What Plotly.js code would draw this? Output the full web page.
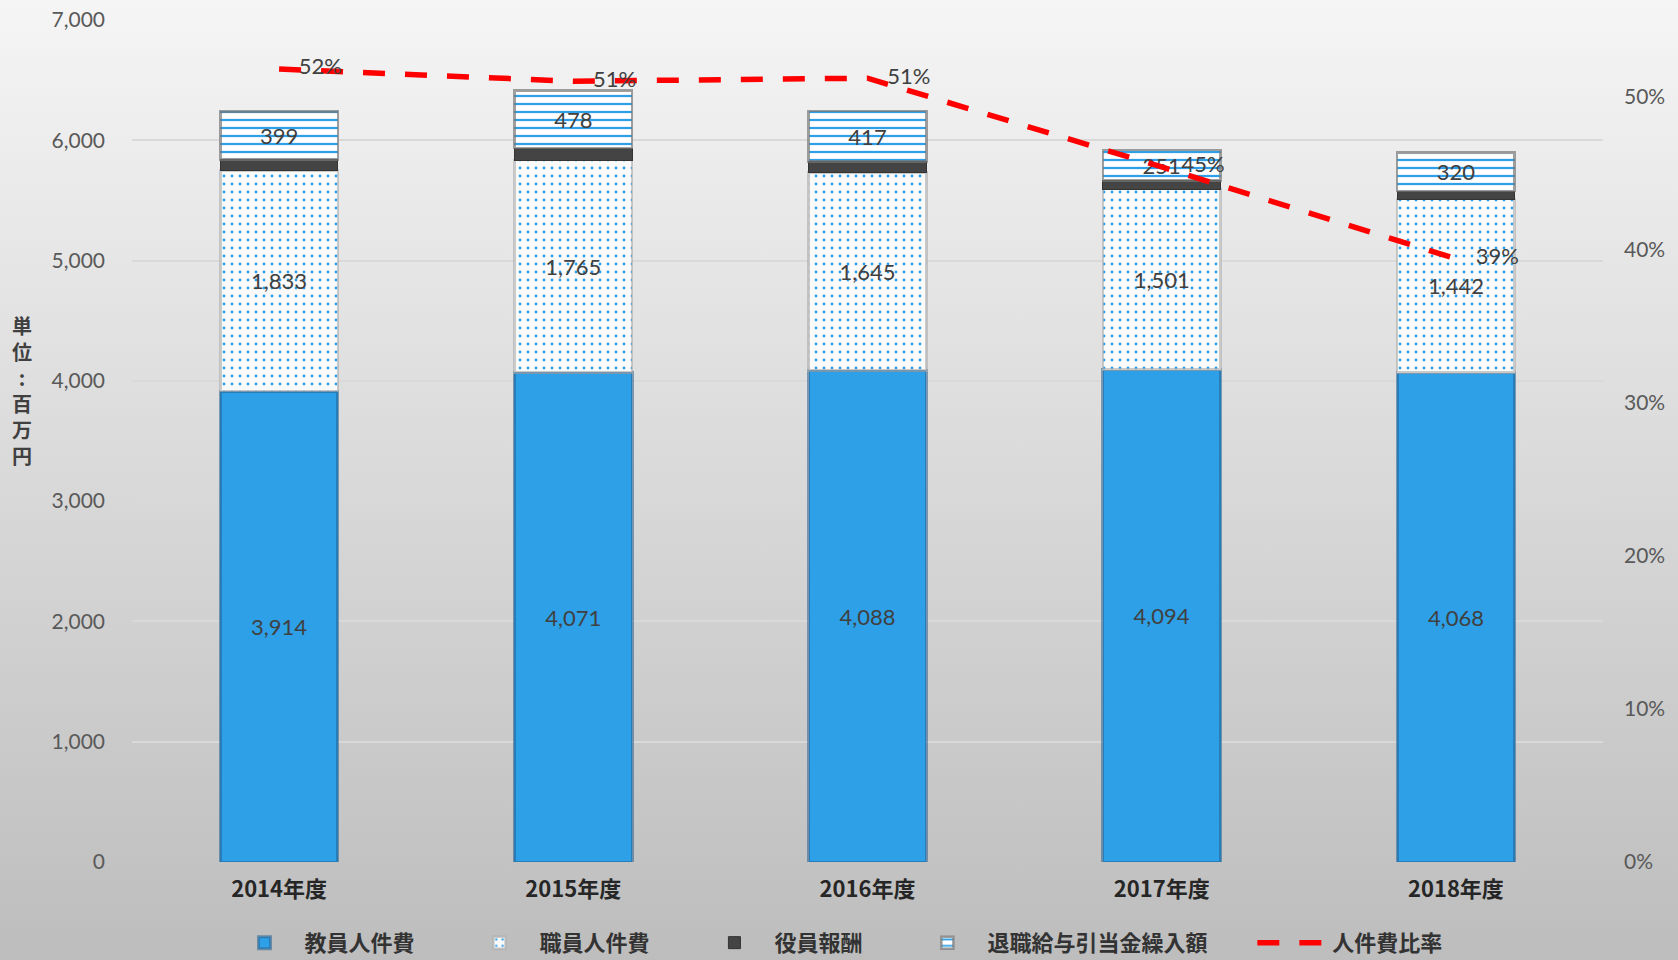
<!DOCTYPE html>
<html><head><meta charset="utf-8">
<script src="https://cdn.plot.ly/plotly-3.0.1.min.js"></script>
<style>
html,body{margin:0;padding:0;}
#chart{width:1678px;height:960px;background:linear-gradient(#f5f5f5,#bdbdbd);}
</style>
</head><body><div id="chart"></div>
<script>
const years = ['2014年度','2015年度','2016年度','2017年度','2018年度'];
const faculty = [3914,4071,4088,4094,4068];
const staff = [1833,1765,1645,1501,1442];
const officers = [95,98,92,72,68];
const retirement = [399,478,417,251,320];
const ratio = [0.518,0.510,0.512,0.454,0.394];
const leftTicks = [0,1000,2000,3000,4000,5000,6000,7000];
const rightTicks = [0,0.1,0.2,0.3,0.4,0.5];

const numFont = "Lato, 'Noto Sans CJK JP', sans-serif";
const jpFont = "'Noto Sans CJK JP', Lato, sans-serif";
const labelFont = {family: numFont, size: 22, color: '#404040'};
const pad = '\u00a0'.repeat(8);

const traces = [
  {type:'bar', name:'教員人件費'+pad, x:years, y:faculty, text:faculty.map(v=>v.toLocaleString('en-US')),
   textposition:'inside', insidetextanchor:'middle', textangle:0, textfont:labelFont,
   marker:{color:'#2ea0e8', line:{color:'rgba(40,95,140,0.55)', width:3}}},
  {type:'bar', name:'職員人件費'+pad, x:years, y:staff, text:staff.map(v=>v.toLocaleString('en-US')),
   textposition:'inside', insidetextanchor:'middle', textangle:0, textfont:labelFont,
   marker:{color:'#fafafa', line:{color:'rgba(170,170,170,0.6)', width:2.5},
           pattern:{shape:'.', fgcolor:'#2e9fe8', bgcolor:'#fafafa', size:8, solidity:0.1}}},
  {type:'bar', name:'役員報酬'+pad, x:years, y:officers, textposition:'none',
   marker:{color:'#444444', line:{color:'#333333', width:1}}},
  {type:'bar', name:'退職給与引当金繰入額'+pad, x:years, y:retirement, text:retirement.map(v=>v.toLocaleString('en-US')),
   textposition:'inside', insidetextanchor:'middle', textangle:0, textfont:labelFont, constraintext:'none',
   marker:{color:'#ffffff', line:{color:'rgba(120,120,120,0.7)', width:2.5},
           pattern:{shape:'-', fgcolor:'#2e9fe8', bgcolor:'#ffffff', size:8, solidity:0.28}}},
  {type:'scatter', name:'人件費比率', x:years, y:ratio, yaxis:'y2', mode:'lines+markers+text',
   text:ratio.map(v=>Math.round(v*100)+'%'), textposition:'middle right',
   textfont:{family:numFont, size:22, color:'#404040'},
   marker:{size:30, color:'rgba(0,0,0,0)'},
   line:{color:'#ff0000', width:5.5, dash:'22px,20px'}}
];

const layout = {
  width:1678, height:960,
  paper_bgcolor:'rgba(0,0,0,0)', plot_bgcolor:'rgba(0,0,0,0)',
  margin:{l:132, r:75, t:20, b:98, autoexpand:false},
  barmode:'stack', bargap:0.6,
  showlegend:true,
  font:{family:jpFont, color:'#404040'},
  xaxis:{type:'category', tickfont:{family:jpFont, size:22, color:'#262626', weight:'bold'},
         ticks:'', ticklabelstandoff:12, showline:false, showgrid:false, zeroline:false},
  yaxis:{range:[0,7000], tickvals:leftTicks, tickformat:',d', tickfont:{family:numFont, size:21, color:'#595959'},
         gridcolor:'#d9d9d9', gridwidth:2, zeroline:false, showline:false, ticks:'', ticklabelstandoff:26},
  yaxis2:{overlaying:'y', side:'right', range:[0,0.55], tickvals:rightTicks, tickformat:'.0%',
          tickfont:{family:numFont, size:21, color:'#595959'}, showgrid:false, zeroline:false,
          showline:false, ticks:'', ticklabelstandoff:20},
  legend:{orientation:'h', x:0.4786, xanchor:'center', y:-0.096, yanchor:'middle',
          font:{family:jpFont, size:22, color:'#333333', weight:'bold'}, itemwidth:70,
          traceorder:'normal', bgcolor:'rgba(0,0,0,0)'},
  annotations:[{text:'単<br>位<br>:<br>百<br>万<br>円', xref:'paper', yref:'paper', x:-0.0745, xanchor:'center',
                y:0.56, yanchor:'middle', showarrow:false,
                font:{family:jpFont, size:20, color:'#404040', weight:'bold'}}]
};

Plotly.newPlot('chart', traces, layout, {displayModeBar:false});
</script>
</body></html>
